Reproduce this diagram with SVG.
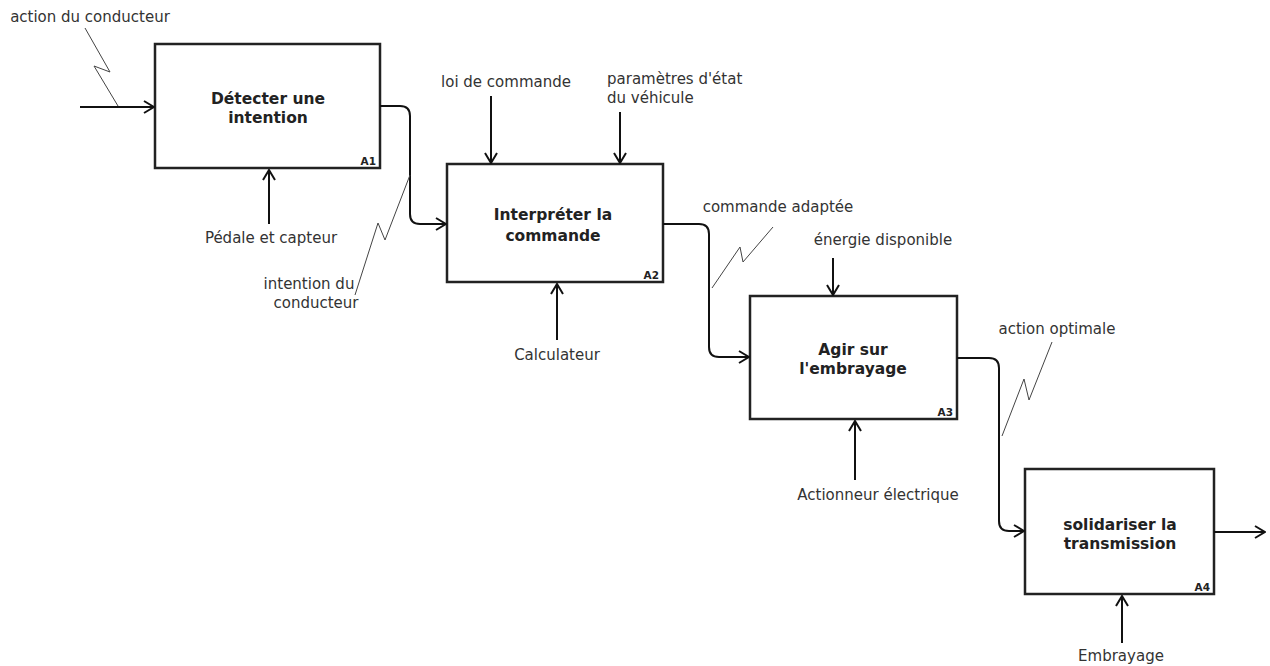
<svg xmlns="http://www.w3.org/2000/svg" width="1270" height="666" viewBox="0 0 1270 666">
<style>
.box{fill:#fff;stroke:#222;stroke-width:2.5}
.t{font-family:"DejaVu Sans",sans-serif;font-size:15px;fill:#333;text-anchor:middle}
.b{font-family:"DejaVu Sans",sans-serif;font-size:15.5px;font-weight:bold;fill:#222;text-anchor:middle}
.id{font-family:"DejaVu Sans",sans-serif;font-size:10.5px;font-weight:bold;fill:#222;text-anchor:end}
.c{fill:none;stroke:#111;stroke-width:2;marker-end:url(#ah)}
.z{fill:none;stroke:#444;stroke-width:1}
</style>
<defs>
<marker id="ah" viewBox="0 0 12 14" refX="11" refY="7" markerWidth="12" markerHeight="14" markerUnits="userSpaceOnUse" orient="auto">
<path d="M1,1 L11,7 L1,13" fill="none" stroke="#111" stroke-width="2"/>
</marker>
</defs>
<rect width="1270" height="666" fill="#fff"/>
<g id="A1">
<rect class="box" x="155" y="44" width="225" height="124"/>
<text class="b" x="268" y="104">Détecter une</text>
<text class="b" x="268" y="123">intention</text>
<text class="id" x="376" y="165">A1</text>
</g>
<g id="A2">
<rect class="box" x="447" y="164" width="216" height="118"/>
<text class="b" x="553" y="220">Interpréter la</text>
<text class="b" x="553" y="241">commande</text>
<text class="id" x="659" y="279">A2</text>
</g>
<g id="A3">
<rect class="box" x="750" y="296" width="207" height="123"/>
<text class="b" x="853" y="355">Agir sur</text>
<text class="b" x="853" y="374">l'embrayage</text>
<text class="id" x="953" y="416">A3</text>
</g>
<g id="A4">
<rect class="box" x="1025" y="469" width="189" height="125"/>
<text class="b" x="1120" y="530">solidariser la</text>
<text class="b" x="1120" y="549">transmission</text>
<text class="id" x="1210" y="591">A4</text>
</g>
<g id="labels">
<text class="t" x="90" y="22">action du conducteur</text>
<text class="t" x="271" y="243">Pédale et capteur</text>
<text class="t" x="309" y="289">intention du</text>
<text class="t" x="316" y="308">conducteur</text>
<text class="t" x="506" y="87">loi de commande</text>
<text class="t" x="607" y="84" style="text-anchor:start">paramètres d'état</text>
<text class="t" x="607" y="103" style="text-anchor:start">du véhicule</text>
<text class="t" x="557" y="360">Calculateur</text>
<text class="t" x="778" y="212">commande adaptée</text>
<text class="t" x="883" y="245">énergie disponible</text>
<text class="t" x="878" y="500">Actionneur électrique</text>
<text class="t" x="1057" y="334">action optimale</text>
<text class="t" x="1121" y="661">Embrayage</text>
</g>
<g id="connectors">
<path class="c" d="M80,107 H154"/>
<path class="c" d="M380,106 H400 Q410,106 410,116 V214 Q410,224 420,224 H446"/>
<path class="c" d="M491,96 V163"/>
<path class="c" d="M620,112 V163"/>
<path class="c" d="M269,224 V170"/>
<path class="c" d="M557,340 V284"/>
<path class="c" d="M663,224 H699 Q709,224 709,234 V347 Q709,357 719,357 H749"/>
<path class="c" d="M833,258 V295"/>
<path class="c" d="M855,480 V421"/>
<path class="c" d="M957,358 H989 Q999,358 999,368 V521 Q999,531 1009,531 H1024"/>
<path class="c" d="M1122,643 V596"/>
<path class="c" d="M1214,532 H1265"/>
<path class="z" d="M85,28 L110,72 L94,66 L118,106"/>
<path class="z" d="M410,175 L385,240 L378,223 L355,295"/>
<path class="z" d="M773,227 L743,262 L740,247 L712,288"/>
<path class="z" d="M1052,342 L1029,400 L1024,379 L1002,436"/>
</g>
</svg>
